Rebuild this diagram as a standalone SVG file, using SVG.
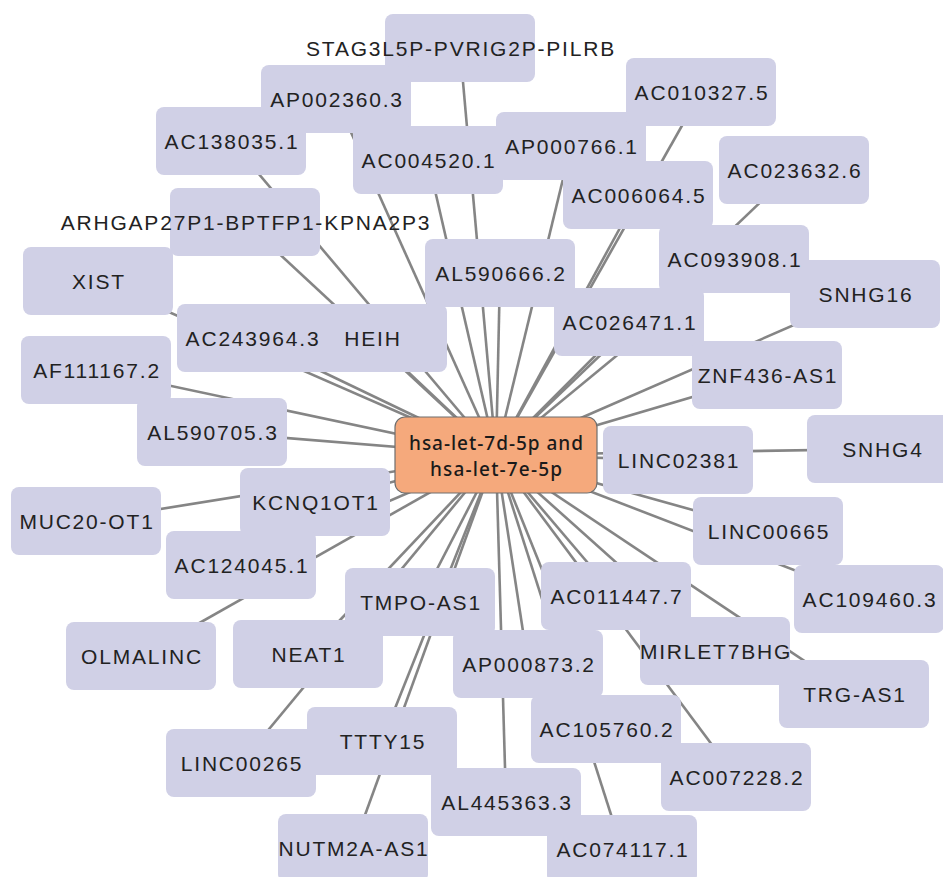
<svg xmlns="http://www.w3.org/2000/svg" width="943" height="877" viewBox="0 0 943 877">
<style>
.bg{fill:#ffffff}
.e line{stroke:#858585;stroke-width:2.6;stroke-linecap:butt}
.n rect{fill:#d0d0e6;stroke:none}
.n text{font-family:"Liberation Sans",Arial,sans-serif;font-size:21px;fill:#222222;text-anchor:middle;letter-spacing:1.8px}
.c rect{fill:#f5a97c;stroke:#6e6e6e;stroke-width:1.2}
.c text{font-family:"Noto Sans","Liberation Sans",sans-serif;font-size:19px;font-weight:500;fill:#1a1a1a;text-anchor:middle}
</style>
<rect class="bg" x="0" y="0" width="943" height="877"/>
<g id="edges" class="e">
<line x1="496" y1="455" x2="460" y2="48"/>
<line x1="496" y1="455" x2="336" y2="99"/>
<line x1="496" y1="455" x2="231" y2="141"/>
<line x1="496" y1="455" x2="428" y2="160"/>
<line x1="496" y1="455" x2="571" y2="146"/>
<line x1="496" y1="455" x2="701" y2="92"/>
<line x1="496" y1="455" x2="638" y2="195"/>
<line x1="496" y1="455" x2="794" y2="170"/>
<line x1="496" y1="455" x2="245" y2="222"/>
<line x1="496" y1="455" x2="98" y2="281"/>
<line x1="496" y1="455" x2="500" y2="273"/>
<line x1="496" y1="455" x2="734" y2="259"/>
<line x1="496" y1="455" x2="865" y2="294"/>
<line x1="496" y1="455" x2="252" y2="338"/>
<line x1="496" y1="455" x2="372" y2="338"/>
<line x1="496" y1="455" x2="629" y2="322"/>
<line x1="496" y1="455" x2="96" y2="370"/>
<line x1="496" y1="455" x2="767" y2="375"/>
<line x1="496" y1="455" x2="212" y2="432"/>
<line x1="496" y1="455" x2="882" y2="449"/>
<line x1="496" y1="455" x2="678" y2="460"/>
<line x1="496" y1="455" x2="315" y2="502"/>
<line x1="496" y1="455" x2="86" y2="521"/>
<line x1="496" y1="455" x2="768" y2="531"/>
<line x1="496" y1="455" x2="241" y2="565"/>
<line x1="496" y1="455" x2="420" y2="602"/>
<line x1="496" y1="455" x2="616" y2="596"/>
<line x1="496" y1="455" x2="869" y2="599"/>
<line x1="496" y1="455" x2="141" y2="656"/>
<line x1="496" y1="455" x2="308" y2="654"/>
<line x1="496" y1="455" x2="715" y2="651"/>
<line x1="496" y1="455" x2="528" y2="664"/>
<line x1="496" y1="455" x2="854" y2="694"/>
<line x1="496" y1="455" x2="606" y2="729"/>
<line x1="496" y1="455" x2="241" y2="763"/>
<line x1="496" y1="455" x2="382" y2="741"/>
<line x1="496" y1="455" x2="736" y2="777"/>
<line x1="496" y1="455" x2="506" y2="802"/>
<line x1="496" y1="455" x2="353" y2="848"/>
<line x1="496" y1="455" x2="622" y2="849"/>
</g>
<g id="n-STAG3L5P-PVRIG2P-PILRB" class="n"><rect x="385" y="14" width="150" height="68" rx="8"/><text x="461" y="56">STAG3L5P-PVRIG2P-PILRB</text></g>
<g id="n-AP002360_3" class="n"><rect x="261" y="65" width="150" height="68" rx="8"/><text x="337" y="107">AP002360.3</text></g>
<g id="n-AC138035_1" class="n"><rect x="156" y="107" width="150" height="68" rx="8"/><text x="232" y="149">AC138035.1</text></g>
<g id="n-AC004520_1" class="n"><rect x="353" y="126" width="150" height="68" rx="8"/><text x="429" y="168">AC004520.1</text></g>
<g id="n-AP000766_1" class="n"><rect x="496" y="112" width="150" height="68" rx="8"/><text x="572" y="154">AP000766.1</text></g>
<g id="n-AC010327_5" class="n"><rect x="626" y="58" width="150" height="68" rx="8"/><text x="702" y="100">AC010327.5</text></g>
<g id="n-AC006064_5" class="n"><rect x="563" y="161" width="150" height="68" rx="8"/><text x="639" y="203">AC006064.5</text></g>
<g id="n-AC023632_6" class="n"><rect x="719" y="136" width="150" height="68" rx="8"/><text x="795" y="178">AC023632.6</text></g>
<g id="n-ARHGAP27P1-BPTFP1-KPNA2P3" class="n"><rect x="170" y="188" width="150" height="68" rx="8"/><text x="246" y="230">ARHGAP27P1-BPTFP1-KPNA2P3</text></g>
<g id="n-XIST" class="n"><rect x="23" y="247" width="150" height="68" rx="8"/><text x="99" y="289">XIST</text></g>
<g id="n-AL590666_2" class="n"><rect x="425" y="239" width="150" height="68" rx="8"/><text x="501" y="281">AL590666.2</text></g>
<g id="n-SNHG16" class="n"><rect x="790" y="260" width="150" height="68" rx="8"/><text x="866" y="302">SNHG16</text></g>
<g id="n-AC093908_1" class="n"><rect x="659" y="225" width="150" height="68" rx="8"/><text x="735" y="267">AC093908.1</text></g>
<g id="n-HEIH" class="n"><rect x="297" y="304" width="150" height="68" rx="8"/><text x="373" y="346">HEIH</text></g>
<g id="n-AC243964_3" class="n"><rect x="177" y="304" width="150" height="68" rx="8"/><text x="253" y="346">AC243964.3</text></g>
<g id="n-AC026471_1" class="n"><rect x="554" y="288" width="150" height="68" rx="8"/><text x="630" y="330">AC026471.1</text></g>
<g id="n-AF111167_2" class="n"><rect x="21" y="336" width="150" height="68" rx="8"/><text x="97" y="378">AF111167.2</text></g>
<g id="n-ZNF436-AS1" class="n"><rect x="692" y="341" width="150" height="68" rx="8"/><text x="768" y="383">ZNF436-AS1</text></g>
<g id="n-AL590705_3" class="n"><rect x="137" y="398" width="150" height="68" rx="8"/><text x="213" y="440">AL590705.3</text></g>
<g id="n-SNHG4" class="n"><rect x="807" y="415" width="150" height="68" rx="8"/><text x="883" y="457">SNHG4</text></g>
<g id="n-LINC02381" class="n"><rect x="603" y="426" width="150" height="68" rx="8"/><text x="679" y="468">LINC02381</text></g>
<g id="n-KCNQ1OT1" class="n"><rect x="240" y="468" width="150" height="68" rx="8"/><text x="316" y="510">KCNQ1OT1</text></g>
<g id="n-MUC20-OT1" class="n"><rect x="11" y="487" width="150" height="68" rx="8"/><text x="87" y="529">MUC20-OT1</text></g>
<g id="n-LINC00665" class="n"><rect x="693" y="497" width="150" height="68" rx="8"/><text x="769" y="539">LINC00665</text></g>
<g id="n-AC124045_1" class="n"><rect x="166" y="531" width="150" height="68" rx="8"/><text x="242" y="573">AC124045.1</text></g>
<g id="n-TMPO-AS1" class="n"><rect x="345" y="568" width="150" height="68" rx="8"/><text x="421" y="610">TMPO-AS1</text></g>
<g id="n-AC011447_7" class="n"><rect x="541" y="562" width="150" height="68" rx="8"/><text x="617" y="604">AC011447.7</text></g>
<g id="n-AC109460_3" class="n"><rect x="794" y="565" width="150" height="68" rx="8"/><text x="870" y="607">AC109460.3</text></g>
<g id="n-OLMALINC" class="n"><rect x="66" y="622" width="150" height="68" rx="8"/><text x="142" y="664">OLMALINC</text></g>
<g id="n-NEAT1" class="n"><rect x="233" y="620" width="150" height="68" rx="8"/><text x="309" y="662">NEAT1</text></g>
<g id="n-TRG-AS1" class="n"><rect x="779" y="660" width="150" height="68" rx="8"/><text x="855" y="702">TRG-AS1</text></g>
<g id="n-MIRLET7BHG" class="n"><rect x="640" y="617" width="150" height="68" rx="8"/><text x="716" y="659">MIRLET7BHG</text></g>
<g id="n-AP000873_2" class="n"><rect x="453" y="630" width="150" height="68" rx="8"/><text x="529" y="672">AP000873.2</text></g>
<g id="n-AC105760_2" class="n"><rect x="531" y="695" width="150" height="68" rx="8"/><text x="607" y="737">AC105760.2</text></g>
<g id="n-LINC00265" class="n"><rect x="166" y="729" width="150" height="68" rx="8"/><text x="242" y="771">LINC00265</text></g>
<g id="n-TTTY15" class="n"><rect x="307" y="707" width="150" height="68" rx="8"/><text x="383" y="749">TTTY15</text></g>
<g id="n-AC007228_2" class="n"><rect x="661" y="743" width="150" height="68" rx="8"/><text x="737" y="785">AC007228.2</text></g>
<g id="n-AL445363_3" class="n"><rect x="431" y="768" width="150" height="68" rx="8"/><text x="507" y="810">AL445363.3</text></g>
<g id="n-NUTM2A-AS1" class="n"><rect x="278" y="814" width="150" height="68" rx="8"/><text x="354" y="856">NUTM2A-AS1</text></g>
<g id="n-AC074117_1" class="n"><rect x="547" y="815" width="150" height="68" rx="8"/><text x="623" y="857">AC074117.1</text></g>
<g id="n-center" class="c"><rect x="395" y="417" width="202" height="76" rx="10"/><text x="496" y="450" textLength="174" lengthAdjust="spacing">hsa-let-7d-5p and</text><text x="496" y="476" textLength="132" lengthAdjust="spacing">hsa-let-7e-5p</text></g>
</svg>
